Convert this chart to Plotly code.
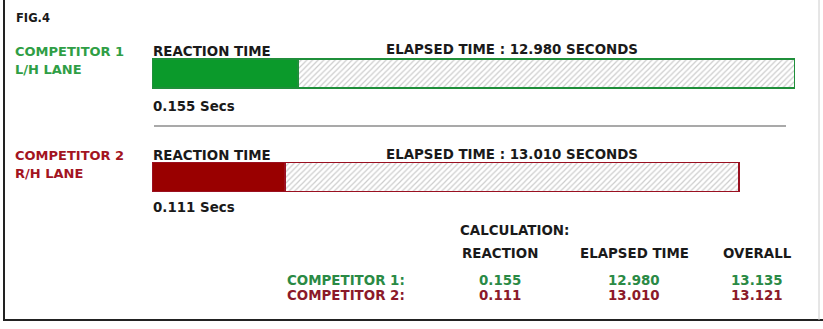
import plotly.graph_objects as go

# ---- data ----
competitors = ["COMPETITOR 1", "COMPETITOR 2"]
lanes = ["L/H LANE", "R/H LANE"]
reaction = [0.155, 0.111]          # seconds
elapsed = [12.980, 13.010]         # seconds
overall = [r + e for r, e in zip(reaction, elapsed)]
# schematic bar lengths as drawn (arbitrary units, full lane = 100)
bar_reaction_len = [22.7, 20.7]
bar_elapsed_len = [77.3, 70.6]
table_headers = ["REACTION", "ELAPSED TIME", "OVERALL"]

solid_colors = ["#0b9a2b", "#990000"]
outline_colors = ["#1f8f3a", "#9a1020"]
text_colors = ["#2f9e45", "#a3141f"]
table_colors = ["#2a8a45", "#8b1a2a"]

W, H = 823, 329
FONT = "DejaVu Sans"
FS = 13.4


def px(x):
    return x / W


def py(y):
    return 1 - y / H


fig = go.Figure()
ypos = [0, 1]

fig.add_trace(go.Bar(
    y=ypos, x=bar_reaction_len, orientation="h", width=0.28,
    marker=dict(color=solid_colors, line=dict(color=outline_colors, width=1.2)),
    hoverinfo="skip", showlegend=False,
))
fig.add_trace(go.Bar(
    y=ypos, x=bar_elapsed_len, orientation="h", width=0.28,
    marker=dict(color="white",
                line=dict(color=outline_colors, width=1.5),
                pattern=dict(shape="/", fgcolor="#999999", bgcolor="white",
                             size=4, solidity=0.3)),
    hoverinfo="skip", showlegend=False,
))

ann = []


def t(text, x, y, color="#1a1a1a", size=FS, anchor="left"):
    ann.append(dict(text=text, x=px(x), y=py(y), xref="paper", yref="paper",
                    xanchor=anchor, yanchor="middle", showarrow=False,
                    font=dict(family=FONT, size=size, color=color, weight="bold")))


t("FIG.4", 14, 18, size=11.5)
bar_tops = [59, 163]
for i in range(2):
    top = bar_tops[i]
    t(competitors[i], 13, top - 8, color=text_colors[i], size=FS - 0.4)
    t(lanes[i], 13, top + 10, color=text_colors[i], size=FS - 0.4)
    t("REACTION TIME", 151, top - 8)
    t(f"ELAPSED TIME : {elapsed[i]:.3f} SECONDS", 384, top - 9)
    t(f"{reaction[i]:.3f} Secs", 151, top + 47 - (3 if i else 0))

t("CALCULATION:", 458, 230)
col_centers = [500, 634, 757]
for h, cx in zip(table_headers, col_centers):
    t(h, cx, 253, anchor="center")
rows_y = [280, 295]
for i in range(2):
    t(competitors[i] + ":", 407, rows_y[i], color=table_colors[i], anchor="right")
    vals = [reaction[i], elapsed[i], overall[i]]
    for v, cx in zip(vals, col_centers):
        t(f"{v:.3f}", cx, rows_y[i], color=table_colors[i], anchor="center")

shapes = [
    dict(type="line", xref="paper", yref="paper", x0=px(154), x1=px(786),
         y0=py(126), y1=py(126), line=dict(color="#555555", width=1.2)),
    dict(type="line", xref="paper", yref="paper", x0=px(4), x1=px(4),
         y0=py(0), y1=py(320), line=dict(color="#222222", width=2)),
    dict(type="line", xref="paper", yref="paper", x0=px(3), x1=px(823),
         y0=py(320), y1=py(320), line=dict(color="#222222", width=2)),
    dict(type="line", xref="paper", yref="paper", x0=px(819), x1=px(819),
         y0=py(0), y1=py(320), line=dict(color="#cccccc", width=1)),
]

# y axis: bar centres at 73.5px and 177px
c0, c1 = 73.5, 177.0
unit = c1 - c0
y_top = (0 - c0) / unit
y_bot = (H - c0) / unit

fig.update_layout(
    width=W, height=H, margin=dict(l=0, r=0, t=0, b=0),
    paper_bgcolor="white", plot_bgcolor="white",
    barmode="stack",
    xaxis=dict(domain=[px(152), px(795)], range=[0, 100], visible=False, fixedrange=True),
    yaxis=dict(domain=[0, 1], range=[y_bot, y_top], visible=False, fixedrange=True),
    annotations=ann, shapes=shapes,
)

fig.write_html("out.html", config={"displayModeBar": False},
               post_script="document.body.style.margin='0';document.body.style.overflow='hidden';")
